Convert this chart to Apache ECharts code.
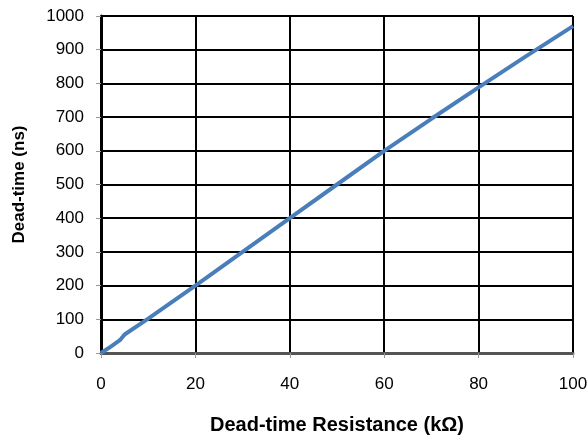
<!DOCTYPE html>
<html>
<head>
<meta charset="utf-8">
<script src="https://cdn.jsdelivr.net/npm/echarts@6/dist/echarts.min.js"></script>
<style>
  html, body { margin: 0; padding: 0; background: #fff; }
  #chart { width: 588px; height: 437px; }
</style>
</head>
<body>
<div id="chart"></div>
<script>
// resistance in kOhm, dead-time in ns
var resistance = [0, 2, 4, 5, 10, 20, 30, 40, 50, 60, 70, 80, 90, 100];
var deadTime = [0, 18, 38, 55, 102, 200, 300, 400, 500, 600, 695, 788, 880, 970];

var chart = echarts.init(document.getElementById("chart"));
var points = resistance.map(function (r, i) { return [r, deadTime[i]]; });

chart.setOption({
  animation: false,
  grid: { left: 101, right: 15, top: 16, bottom: 84, outerBoundsMode: "none" },
  xAxis: {
    type: "value",
    min: 0,
    max: 100,
    interval: 20,
    name: "Dead-time Resistance (kΩ)",
    nameLocation: "middle",
    nameGap: 62,
    nameTextStyle: { fontFamily: "Liberation Sans", fontSize: 20, fontWeight: "bold", color: "#000" },
    axisLine: { show: true, lineStyle: { color: "#555", width: 3 } },
    axisTick: { show: true, inside: false, length: 5, lineStyle: { color: "#999" } },
    axisLabel: { fontFamily: "Liberation Sans", fontSize: 17, color: "#000", margin: 23 },
    splitLine: { show: true, lineStyle: { color: "#000", width: 2 } }
  },
  yAxis: {
    type: "value",
    min: 0,
    max: 1000,
    interval: 100,
    name: "Dead-time (ns)",
    nameLocation: "middle",
    nameGap: 73,
    nameTextStyle: { fontFamily: "Liberation Sans", fontSize: 17, fontWeight: "bold", color: "#000" },
    axisLine: { show: true, lineStyle: { color: "#000", width: 3 } },
    axisTick: { show: true, inside: false, length: 5, lineStyle: { color: "#999" } },
    axisLabel: {
      fontFamily: "Liberation Sans", fontSize: 17, color: "#000", margin: 17,
      formatter: function (v) { return String(v); }
    },
    splitLine: { show: true, lineStyle: { color: "#000", width: 2 } }
  },
  series: [{
    type: "line",
    data: points,
    showSymbol: false,
    smooth: false,
    lineStyle: { color: "#4a7ebb", width: 4 }
  }]
});
</script>
</body>
</html>
